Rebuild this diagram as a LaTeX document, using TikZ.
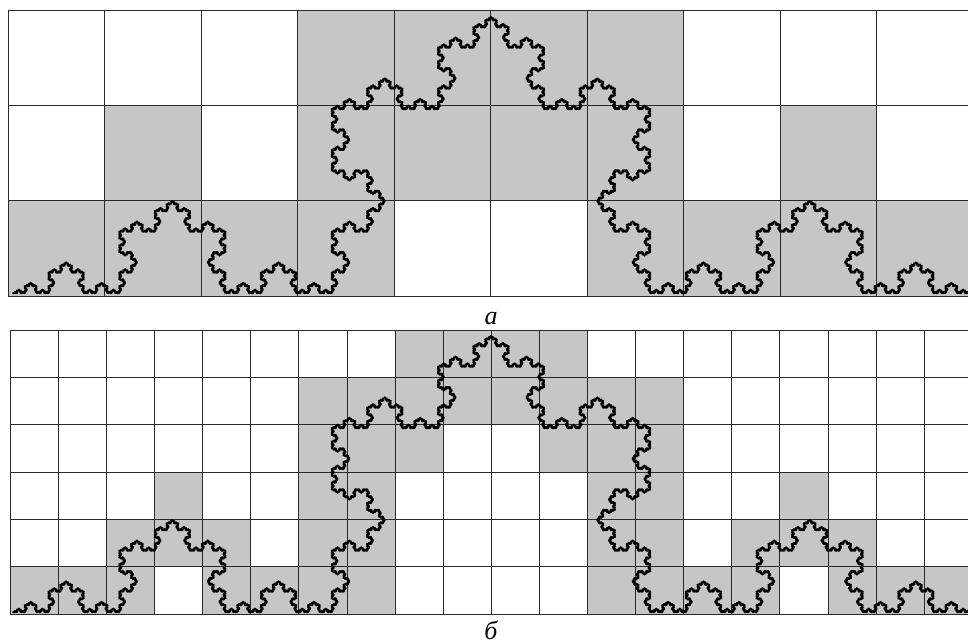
\documentclass[tikz,border=0pt]{standalone}
\usepackage{fontspec}
\setmainfont{Liberation Serif}
\definecolor{cellgray}{HTML}{C6C6C6}
\definecolor{gridline}{HTML}{2A2A2A}
\tikzset{
  cellfill/.style={fill=cellgray},
  gridln/.style={draw=gridline,line width=0.5pt},
  lbl/.style={font=\itshape\fontsize{13}{15}\selectfont,inner sep=0pt,anchor=base}
}
% ---- Koch curve of order 6, built iteratively (base-4 digits give the heading) ----
\newcount\kochN \newcount\kochT \newcount\kochD \newcount\kochK
\newdimen\kochX \newdimen\kochY \newdimen\kochS
\def\kochdigit{%
  \kochD=\kochT \divide\kochT by 4
  \kochD=\numexpr\kochD-4*\kochT\relax
  \ifcase\kochD \or \advance\kochK by 1 \or \advance\kochK by -1 \or \fi}
\def\kochstep{%
  \ifcase\kochK
    \advance\kochX by \kochS
  \or \advance\kochX by 0.5\kochS \advance\kochY by 0.866025\kochS
  \or \advance\kochX by -0.5\kochS \advance\kochY by 0.866025\kochS
  \or \advance\kochX by -\kochS
  \or \advance\kochX by -0.5\kochS \advance\kochY by -0.866025\kochS
  \or \advance\kochX by 0.5\kochS \advance\kochY by -0.866025\kochS
  \fi}
\def\kochcurve#1#2#3{%
  \kochX=#1\relax \kochY=#2\relax \kochS=#3\relax
  \pgfpathmoveto{\pgfqpoint{\kochX}{\kochY}}%
  \kochN=0
  \loop
    \kochT=\kochN \kochK=0
    \kochdigit\kochdigit\kochdigit\kochdigit\kochdigit\kochdigit
    \ifnum\kochK<0 \advance\kochK by 6 \fi
    \ifnum\kochK>5 \advance\kochK by -6 \fi
    \kochstep
    \pgfpathlineto{\pgfqpoint{\kochX}{\kochY}}%
    \advance\kochN by 1
  \ifnum\kochN<4096 \repeat}
\begin{document}
\begin{tikzpicture}[x=0.5pt,y=-0.5pt]
\useasboundingbox (0,0) rectangle (968,643);
\clip (0,0) rectangle (968,643);
% ---------- top grid (a) ----------
\def\tx{8.3}\def\tw{96.5}\def\ty{10.3}\def\th{95.333}
\foreach \c/\r in {4/1,5/1,6/1,7/1,
                   2/2,4/2,5/2,6/2,7/2,9/2,
                   1/3,2/3,3/3,4/3,7/3,8/3,9/3,10/3}
  \fill[cellfill] ({\tx+(\c-1)*\tw},{\ty+(\r-1)*\th}) rectangle ++(\tw,\th);
\foreach \i in {0,...,10}
  \draw[gridln] ({\tx+\i*\tw},\ty) -- ({\tx+\i*\tw},{\ty+3*\th});
\foreach \j in {0,...,3}
  \draw[gridln] (\tx,{\ty+\j*\th}) -- ({\tx+10*\tw},{\ty+\j*\th});
% ---------- bottom grid (b) ----------
\def\bx{10.3}\def\bw{48.1}\def\by{330.3}\def\bh{47.333}
\foreach \c/\r in {9/1,10/1,11/1,12/1,
                   7/2,8/2,9/2,10/2,11/2,12/2,13/2,14/2,
                   7/3,8/3,9/3,12/3,13/3,14/3,
                   4/4,7/4,8/4,13/4,14/4,17/4,
                   3/5,4/5,5/5,7/5,8/5,13/5,14/5,16/5,17/5,18/5,
                   1/6,2/6,3/6,5/6,6/6,7/6,8/6,13/6,14/6,15/6,16/6,18/6,19/6,20/6}
  \fill[cellfill] ({\bx+(\c-1)*\bw},{\by+(\r-1)*\bh}) rectangle ++(\bw,\bh);
\foreach \i in {0,...,20}
  \draw[gridln] ({\bx+\i*\bw},\by) -- ({\bx+\i*\bw},{\by+6*\bh});
\foreach \j in {0,...,6}
  \draw[gridln] (\bx,{\by+\j*\bh}) -- ({\bx+20*\bw},{\by+\j*\bh});
% ---------- Koch curves ----------
\begin{pgfscope}
  \pgfsetlinewidth{1.0pt}\pgfsetroundjoin\pgfsetroundcap
  \pgfsetstrokecolor{black}
  \kochcurve{6.5pt}{-146.5pt}{0.6557pt}\pgfusepath{stroke}
  \kochcurve{6.5pt}{-306pt}{0.6557pt}\pgfusepath{stroke}
\end{pgfscope}
% ---------- labels ----------
\node[lbl] (la) at (491,324) {а};
\node[lbl] (lb) at (491,639) {б};
\end{tikzpicture}
\end{document}
